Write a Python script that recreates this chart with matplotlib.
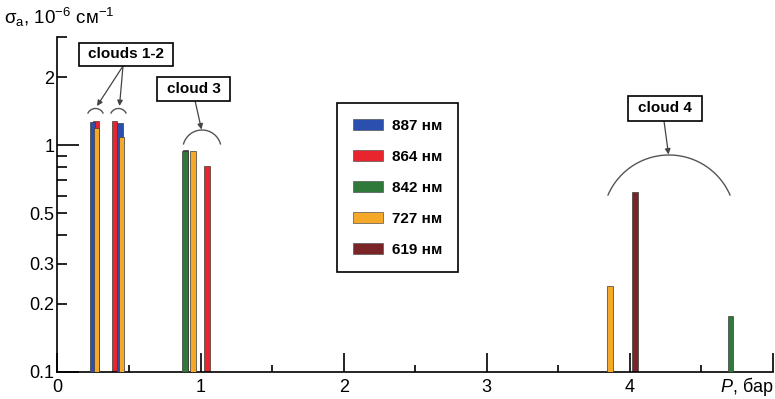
import numpy as np
import matplotlib
matplotlib.use('Agg')
import matplotlib.pyplot as plt
from matplotlib.patches import Patch, Rectangle
from matplotlib.lines import Line2D

plt.rcParams['font.family'] = ['Liberation Sans', 'DejaVu Sans']
plt.rcParams['mathtext.fontset'] = 'custom'
plt.rcParams['mathtext.rm'] = 'Liberation Sans'
plt.rcParams['mathtext.it'] = 'Liberation Sans:italic'

# ---- data ----
series_labels = ['887 нм', '864 нм', '842 нм', '727 нм', '619 нм']
series_colors = ['#2b4fae', '#e8242c', '#2f7a3b', '#f6a928', '#7a2428']

p_887 = [0.247, 0.437]
sig_887 = [1.27, 1.26]
p_864 = [0.271, 0.398, 1.044]
sig_864 = [1.28, 1.28, 0.81]
p_842 = [0.893, 4.703]
sig_842 = [0.94, 0.177]
p_727 = [0.275, 0.449, 0.948, 3.862]
sig_727 = [1.19, 1.09, 0.94, 0.24]
p_619 = [0.896, 4.035]
sig_619 = [0.955, 0.62]

x_ticks = [0, 1, 2, 3, 4, 5]
x_ticklabels = ['0', '1', '2', '3', '4', '']
x_minor = [0.5, 1.5, 2.5, 3.5, 4.5]
y_major = [0.1, 1]
y_major_labels = ['0.1', '1']
y_minor = [0.2, 0.3, 0.4, 0.5, 0.6, 0.7, 0.8, 0.9, 2, 3]
y_minor_labels = ['0.2', '0.3', '', '0.5', '', '', '', '', '2', '']

W, H = 775, 399
fig = plt.figure(figsize=(W / 100, H / 100), dpi=100)

def fxy(px, py):
    return px / W, 1 - py / H

ax_left, ax_right, ax_top, ax_bot = 57.4, 773.0, 37.3, 371.7
ax = fig.add_axes([ax_left / W, 1 - ax_bot / H, (ax_right - ax_left) / W, (ax_bot - ax_top) / H])

bw = 0.038
series = [
    (p_864, sig_864, 1, 2),
    (p_619, sig_619, 4, 2),
    (p_887, sig_887, 0, 3),
    (p_842, sig_842, 2, 3),
    (p_727, sig_727, 3, 4),
]
for p, s, ci, z in series:
    ax.bar(p, s, width=bw, color=series_colors[ci], edgecolor='#3a3a3a',
           linewidth=0.5, zorder=z, log=True)

ax.set_yscale('log')
ax.set_xlim(0, 5)
ax.set_ylim(0.1, 3.0)

ax.set_xticks(x_ticks, labels=x_ticklabels)
ax.set_xticks(x_minor, minor=True)
ax.set_yticks(y_major, labels=y_major_labels)
ax.set_yticks(y_minor, labels=y_minor_labels, minor=True)

for sp in ['top', 'right']:
    ax.spines[sp].set_visible(False)
for sp in ['left', 'bottom']:
    ax.spines[sp].set_linewidth(1.2)

ax.tick_params(axis='x', which='major', direction='in', length=14, width=1.2,
               labelsize=13, pad=5)
ax.tick_params(axis='x', which='minor', direction='in', length=5, width=1.2)
ax.tick_params(axis='y', which='major', direction='in', length=16, width=1.2,
               labelsize=13, pad=2)
ax.tick_params(axis='y', which='minor', direction='in', length=7, width=1.2,
               labelsize=13, pad=2)

# axis labels
fig.text(*fxy(774, 386), '$P$, бар', ha='right', va='center', fontsize=13)
fig.text(*fxy(4, 17), 'σ$_\\mathrm{a}$, 10$^{-6}$ см$^{-1}$', ha='left', va='center', fontsize=13.5)

# legend
handles = [Patch(facecolor=c, edgecolor='#555555', linewidth=0.5) for c in series_colors]
leg = ax.legend(handles, series_labels, loc='upper left',
                bbox_to_anchor=fxy(337.3, 103.3), bbox_transform=fig.transFigure,
                borderaxespad=0, fancybox=False, framealpha=1, edgecolor='black',
                prop={'size': 11, 'weight': 'bold'}, handlelength=2.0, handleheight=0.7,
                handletextpad=0.6, labelspacing=1.12, borderpad=1.0)
leg.get_frame().set_linewidth(1.2)

# annotation boxes
def box(cx, cy, w, h, text):
    x0, y0 = fxy(cx - w / 2, cy + h / 2)
    fig.patches.append(Rectangle((x0, y0), w / W, h / H, transform=fig.transFigure,
                                 facecolor='white', edgecolor='black', linewidth=1.2))
    fig.text(*fxy(cx, cy), text, ha='center', va='center', fontsize=11, fontweight='bold')

def arc(cx, top_y, r, half_angle_deg):
    cy = top_y + r
    t = np.radians(np.linspace(-half_angle_deg, half_angle_deg, 60))
    xs = cx + r * np.sin(t)
    ys = cy - r * np.cos(t)
    fig.add_artist(Line2D(xs / W, 1 - ys / H, transform=fig.transFigure, color='#555555', lw=1.0))

def arrow(x0, y0, x1, y1):
    ax.annotate('', xy=fxy(x1, y1), xycoords='figure fraction',
                xytext=fxy(x0, y0), textcoords='figure fraction',
                arrowprops=dict(arrowstyle='-|>', color='#444444', lw=0.9,
                                mutation_scale=8, shrinkA=0, shrinkB=0))

box(125.5, 54.3, 94, 23, 'clouds 1-2')
box(193.5, 89, 73, 23, 'cloud 3')
box(665, 108.5, 74, 25, 'cloud 4')

arc(95.5, 108.5, 8.5, 62)
arc(118.5, 108.5, 8.5, 62)
arc(202, 130, 19.2, 74)
arc(669, 155, 66.5, 66.5)

arrow(123, 66, 97, 106)
arrow(123, 66, 119.5, 106)
arrow(195, 100.5, 201.5, 129.5)
arrow(664, 121, 668.5, 154.5)

fig.savefig('out.png', dpi=100)
